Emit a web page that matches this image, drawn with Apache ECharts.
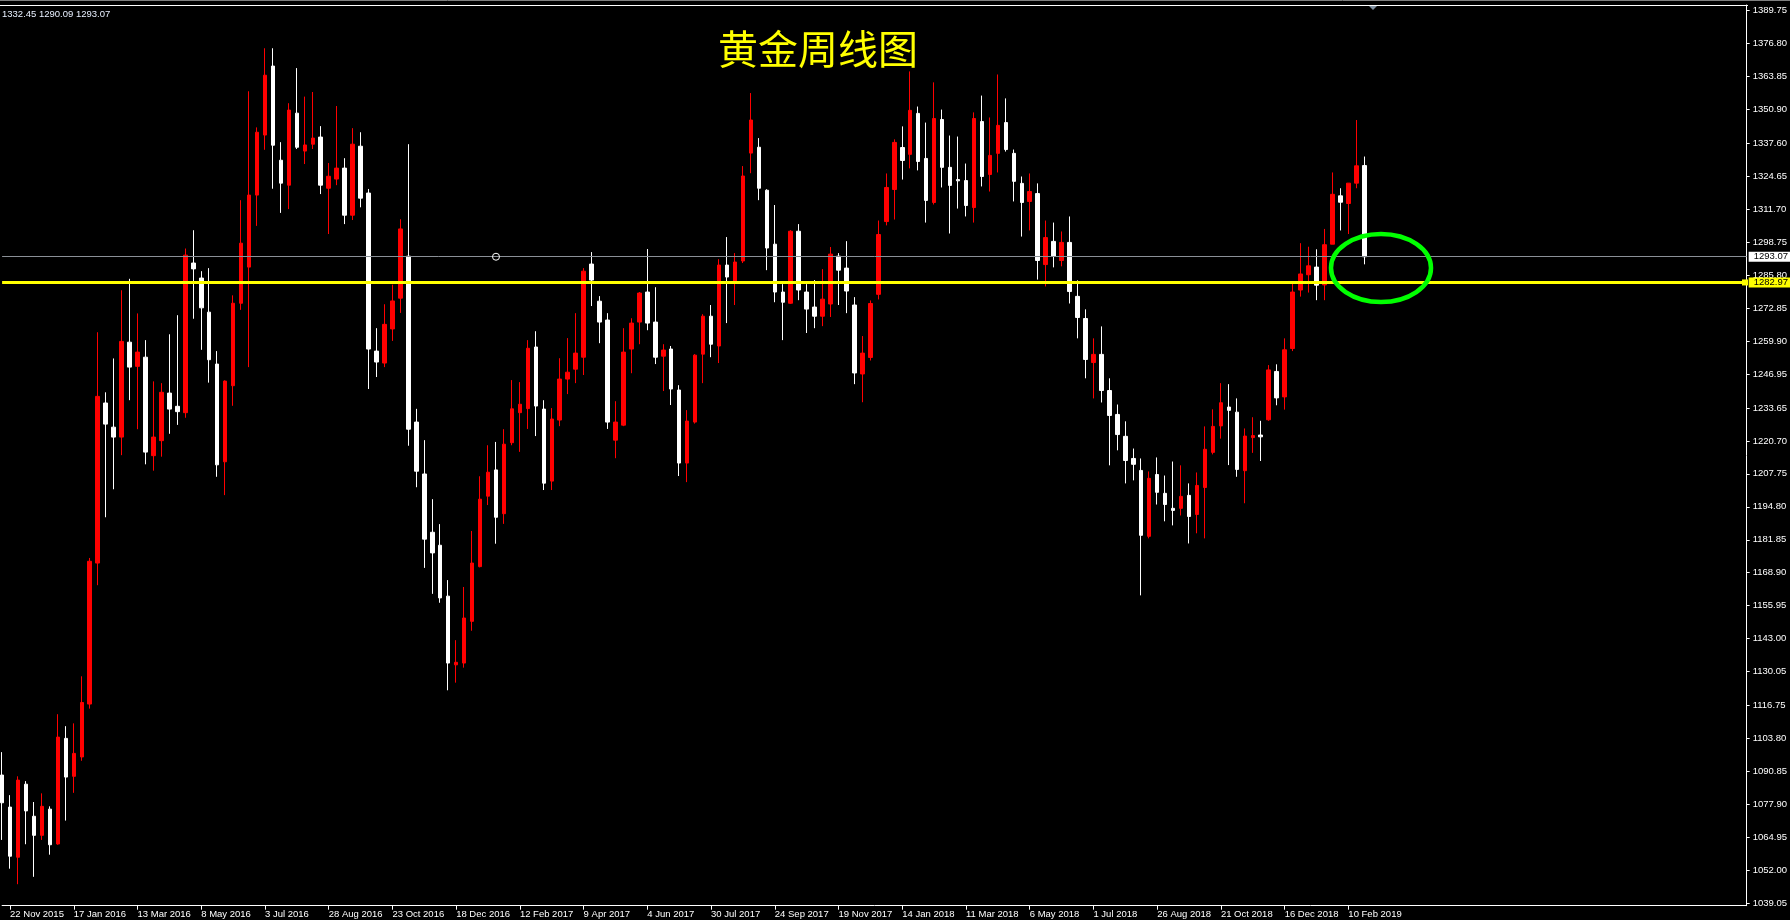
<!DOCTYPE html>
<html>
<head>
<meta charset="utf-8">
<script src="https://cdn.jsdelivr.net/npm/echarts@6/dist/echarts.min.js"></script>
<style>
html,body{margin:0;padding:0;background:#000;}
#c{width:1790px;height:920px;}
</style>
</head>
<body>
<div id="c"></div>
<script>
// ---- Data (weekly XAUUSD candles, week of 15 Nov 2015 .. 24 Feb 2019) ----
const startDate = [2015, 10, 15];           // first candle week (15 Nov 2015)
const totalSlots = 220;                      // weekly slots on the time axis (incl. right shift space)

const opens = [
1089.4,1076.8,1057.1,1085.8,1073.2,1065.7,1076.0,1062.3,1103.8,1088.9,
1096.5,1117.3,1172.7,1235.6,1226.1,1222.2,1259.5,1250.0,1253.6,1214.9,
1220.8,1239.5,1234.3,1231.8,1290.6,1284.7,1271.3,1250.9,1212.5,1242.4,
1274.8,1289.0,1317.3,1340.9,1368.0,1331.0,1321.2,1349.5,1334.6,1337.3,
1340.1,1320.0,1323.6,1327.9,1309.4,1336.5,1318.1,1256.0,1251.3,1264.7,
1276.8,1293.3,1228.1,1207.7,1184.8,1179.7,1159.7,1132.7,1133.4,1149.8,
1171.3,1199.0,1209.3,1192.1,1220.0,1231.8,1233.4,1257.6,1233.2,1204.9,
1228.9,1245.0,1248.9,1253.6,1290.2,1275.6,1268.2,1221.0,1226.9,1256.8,
1267.4,1279.2,1267.4,1254.0,1256.8,1240.7,1212.0,1228.1,1254.8,1269.7,
1258.0,1289.8,1283.5,1291.4,1333.8,1336.1,1319.2,1298.0,1279.2,1274.8,
1303.1,1279.2,1273.3,1269.7,1274.5,1293.3,1288.6,1274.1,1247.0,1253.5,
1278.3,1306.9,1319.5,1336.0,1333.3,1349.4,1331.7,1314.4,1347.0,1328.2,
1323.4,1323.0,1312.4,1346.2,1325.4,1333.7,1345.8,1333.7,1321.9,1314.8,
1317.9,1290.0,1299.1,1291.6,1298.7,1277.5,1268.8,1251.5,1254.7,1240.5,
1231.1,1222.5,1213.8,1209.1,1183.2,1207.5,1200.1,1194.2,1194.2,1199.3,
1191.8,1202.4,1216.2,1226.6,1234.0,1232.0,1209.0,1222.0,1223.0,1229.0,
1248.0,1238.0,1257.0,1280.0,1286.0,1289.0,1282.0,1298.0,1317.0,1314.0,
1322.0,1328.9
];
const highs = [
1098.4,1081.5,1088.9,1087.0,1078.8,1082.2,1077.1,1113.3,1108.6,1109.7,
1128.2,1174.7,1263.4,1239.8,1253.1,1279.9,1284.4,1270.8,1260.3,1244.1,
1243.4,1262.6,1270.1,1296.3,1303.5,1287.4,1288.6,1256.0,1244.5,1277.9,
1315.3,1358.1,1343.9,1375.0,1375.0,1338.1,1353.4,1367.2,1356.0,1357.8,
1344.4,1329.9,1352.3,1331.8,1343.6,1342.0,1319.7,1265.0,1274.4,1282.1,
1307.8,1337.3,1233.3,1221.0,1197.8,1188.0,1166.0,1142.4,1163.3,1185.3,
1206.8,1219.0,1220.3,1225.3,1244.6,1243.8,1260.3,1263.8,1236.7,1233.6,
1253.2,1261.1,1270.9,1288.6,1294.9,1277.6,1270.9,1236.3,1265.0,1268.9,
1279.2,1296.1,1281.1,1258.7,1258.0,1242.6,1232.8,1254.8,1270.5,1274.1,
1292.1,1300.8,1294.5,1328.7,1357.4,1339.7,1319.6,1313.4,1282.3,1303.5,
1305.9,1282.3,1283.9,1288.2,1296.9,1294.5,1299.2,1277.2,1261.9,1275.9,
1307.3,1325.8,1339.2,1344.3,1365.9,1352.1,1345.8,1361.6,1350.9,1340.7,
1340.3,1329.7,1349.8,1356.4,1347.8,1364.7,1355.3,1335.2,1324.6,1325.8,
1321.9,1307.3,1306.5,1303.0,1308.9,1283.8,1272.4,1261.0,1265.7,1245.3,
1235.0,1228.4,1217.7,1213.8,1208.7,1214.2,1207.1,1212.6,1211.1,1204.0,
1208.3,1226.4,1233.1,1243.4,1243.0,1237.4,1225.6,1230.0,1228.6,1250.5,
1250.8,1261.0,1283.4,1298.4,1297.0,1296.0,1304.0,1326.2,1320.0,1322.0,
1346.8,1332.45
];
const lows = [
1063.9,1052.6,1046.5,1062.2,1049.4,1063.9,1058.1,1062.0,1071.5,1082.4,
1095.0,1115.5,1164.0,1190.7,1201.7,1215.1,1236.7,1225.3,1211.5,1209.0,
1214.5,1223.5,1227.0,1229.8,1268.7,1256.5,1243.6,1206.6,1199.4,1234.5,
1272.2,1249.7,1305.2,1335.1,1319.8,1310.3,1311.8,1335.4,1329.5,1335.4,
1317.7,1302.0,1321.2,1305.9,1307.5,1312.5,1241.1,1245.8,1249.7,1260.0,
1271.0,1218.8,1202.5,1170.8,1160.6,1157.1,1122.7,1125.7,1131.6,1146.1,
1171.0,1195.5,1180.3,1188.1,1219.0,1216.4,1225.4,1222.6,1201.4,1201.4,
1226.5,1239.1,1243.4,1246.6,1273.7,1259.1,1225.4,1213.9,1226.5,1247.3,
1258.7,1264.2,1250.9,1240.3,1234.8,1206.9,1204.5,1227.5,1243.4,1253.6,
1251.3,1267.0,1274.1,1290.6,1325.9,1315.3,1287.8,1275.2,1260.3,1274.5,
1276.0,1263.1,1265.0,1265.8,1269.4,1274.1,1270.9,1243.0,1235.9,1252.3,
1276.3,1305.4,1307.7,1323.4,1327.8,1327.0,1306.5,1313.6,1320.3,1302.2,
1312.0,1308.9,1306.5,1320.7,1318.7,1326.2,1334.4,1314.8,1301.0,1303.4,
1284.1,1281.4,1288.9,1289.3,1274.7,1261.0,1245.3,1237.4,1235.8,1211.1,
1217.0,1204.0,1205.2,1160.0,1182.4,1195.7,1189.1,1187.5,1191.4,1180.4,
1184.4,1182.4,1215.4,1221.6,1211.2,1206.6,1196.2,1216.0,1212.8,1228.6,
1234.7,1233.0,1256.0,1277.4,1279.0,1276.0,1276.0,1298.0,1303.4,1302.0,
1320.0,1290.09
];
const closes = [
1078.5,1057.5,1087.4,1075.3,1065.7,1077.1,1062.0,1104.3,1088.6,1097.9,
1117.9,1173.4,1238.2,1227.3,1222.2,1259.8,1249.7,1255.6,1216.3,1222.2,
1239.8,1233.2,1232.2,1293.7,1288.3,1273.0,1252.6,1211.3,1244.2,1274.8,
1298.4,1317.3,1342.0,1364.4,1336.9,1322.0,1350.7,1336.1,1337.0,1339.7,
1321.2,1324.7,1327.9,1309.4,1337.3,1316.1,1256.8,1251.7,1266.5,1275.7,
1304.0,1225.3,1208.8,1182.1,1176.7,1159.0,1133.4,1133.7,1151.1,1172.7,
1197.8,1208.4,1190.7,1219.4,1233.3,1235.1,1257.1,1234.4,1204.1,1229.3,
1245.0,1247.7,1255.2,1287.4,1283.9,1267.4,1228.1,1228.1,1255.6,1267.0,
1278.8,1267.0,1253.6,1256.4,1241.1,1212.0,1228.5,1254.4,1269.7,1258.7,
1289.8,1285.1,1291.0,1324.8,1346.8,1320.0,1296.5,1279.2,1275.2,1303.1,
1280.0,1272.5,1269.7,1276.4,1294.1,1287.8,1279.6,1247.4,1255.2,1274.7,
1301.8,1320.3,1338.0,1330.9,1350.6,1330.5,1315.2,1347.4,1328.2,1321.1,
1322.9,1313.2,1347.4,1324.6,1332.9,1344.7,1335.2,1322.7,1314.4,1318.7,
1291.6,1300.6,1293.2,1298.7,1279.4,1269.2,1252.7,1254.7,1240.5,1230.7,
1223.2,1213.0,1211.5,1183.6,1206.0,1200.5,1195.7,1193.4,1198.9,1191.0,
1203.2,1217.4,1226.4,1235.7,1232.7,1209.5,1222.6,1222.8,1222.3,1248.6,
1237.6,1256.5,1279.2,1286.3,1289.5,1281.9,1297.8,1317.6,1314.5,1322.0,
1328.8,1293.07
];

const yTicks = [1389.75,1376.80,1363.85,1350.90,1337.60,1324.65,1311.70,1298.75,1285.80,1272.85,
  1259.90,1246.95,1233.65,1220.70,1207.75,1194.80,1181.85,1168.90,1155.95,1143.00,1130.05,
  1116.75,1103.80,1090.85,1077.90,1064.95,1052.00,1039.05];
const yMin = 1038.05, yMax = 1392.0;
const bidPrice = 1293.07;     // grey current-price line
const levelPrice = 1282.97;   // yellow horizontal level
const labelEvery = 8;         // weeks between time labels
const firstLabelSlot = 1;     // 22 Nov 2015
const lastLabelSlot = 169;    // 10 Feb 2019
const titleText = '黄金周线图';
const objectAnchorSlot = 62;  // anchor circle on the grey line

// ---- build categories ----
const MONTHS = ['Jan','Feb','Mar','Apr','May','Jun','Jul','Aug','Sep','Oct','Nov','Dec'];
const categories = [];
for (let k = 0; k < totalSlots; k++) {
  const d = new Date(Date.UTC(startDate[0], startDate[1], startDate[2] + 7 * k));
  categories.push(d.getUTCDate() + ' ' + MONTHS[d.getUTCMonth()] + ' ' + d.getUTCFullYear());
}
const candleData = opens.map((o, j) => [o, closes[j], lows[j], highs[j]]);
const showLabel = (idx) => idx >= firstLabelSlot && idx <= lastLabelSlot && (idx - firstLabelSlot) % labelEvery === 0;

const FONT = 'Liberation Sans, Arial, sans-serif';
const chart = echarts.init(document.getElementById('c'), null, {renderer: 'canvas'});

const GRID = {left: 2.1, right: 42, top: 5, bottom: 14.3};

chart.setOption({
  backgroundColor: '#000',
  animation: false,
  grid: {left: GRID.left, right: GRID.right, top: GRID.top, bottom: GRID.bottom, containLabel: false},
  xAxis: {
    type: 'category',
    data: categories,
    boundaryGap: false,
    axisLine: {show: true, onZero: false, lineStyle: {color: '#ffffff', width: 1}},
    axisTick: {show: true, interval: showLabel, length: 4, lineStyle: {color: '#ffffff'}},
    axisLabel: {interval: showLabel, align: 'left', color: '#ffffff', fontSize: 9.5, fontFamily: FONT, margin: 4},
    splitLine: {show: false}
  },
  yAxis: {
    type: 'value',
    position: 'right',
    min: yMin, max: yMax,
    axisLine: {show: true, lineStyle: {color: '#ffffff', width: 1}},
    axisTick: {show: true, customValues: yTicks, length: 3, lineStyle: {color: '#ffffff'}},
    axisLabel: {customValues: yTicks, formatter: v => v.toFixed(2), color: '#ffffff', fontSize: 9.5, fontFamily: FONT, margin: 6},
    splitLine: {show: false}
  },
  series: [{
    type: 'candlestick',
    data: candleData,
    barWidth: 4,
    clip: false,
    itemStyle: {color: '#ff0000', color0: '#ffffff', borderColor: '#ff0000', borderColor0: '#ffffff', borderWidth: 1},
    markLine: {
      silent: true,
      symbol: ['none', 'none'],
      animation: false,
      data: [
        {yAxis: bidPrice, lineStyle: {color: '#8a8f96', width: 1, type: 'solid'},
         label: {show: true, position: 'end', distance: 2, formatter: bidPrice.toFixed(2), color: '#000', backgroundColor: '#ffffff',
                 fontSize: 9.5, fontFamily: FONT, lineHeight: 10, padding: [0, 8, 0, 5]}},
        {yAxis: levelPrice, lineStyle: {color: '#ffff00', width: 3, type: 'solid'},
         label: {show: true, position: 'end', distance: 2, formatter: levelPrice.toFixed(2), color: '#000', backgroundColor: '#ffff00',
                 fontSize: 9.5, fontFamily: FONT, lineHeight: 10, padding: [0, 8, 0, 5]}}
      ]
    },
    markPoint: {
      silent: true,
      animation: false,
      data: [{coord: [objectAnchorSlot, bidPrice], symbol: 'circle', symbolSize: 7,
              itemStyle: {color: 'rgba(0,0,0,0)', borderColor: '#ffffff', borderWidth: 1}, label: {show: false}}]
    }
  }]
});

// decorations positioned through the chart's own coordinate system
const yLevel = chart.convertToPixel({yAxisIndex: 0}, levelPrice);
const xRight = 1790 - GRID.right;
const lastCandle = opens.length - 1;
chart.setOption({
  graphic: [
    {type: 'line', shape: {x1: 0, y1: 0.5, x2: 1790, y2: 0.5}, style: {stroke: '#7f7f7f', lineWidth: 1}, z: 10},
    {type: 'line', shape: {x1: 0, y1: GRID.top + 0.5, x2: xRight, y2: GRID.top + 0.5}, style: {stroke: '#ffffff', lineWidth: 1}, z: 10},
    {type: 'text', x: 2, y: 14, style: {text: highs[lastCandle].toFixed(2) + ' ' + lows[lastCandle].toFixed(2) + ' ' + closes[lastCandle].toFixed(2),
      fill: '#e8f0ff', fontSize: 9.5, fontFamily: FONT, verticalAlign: 'middle', align: 'left'}, z: 10},
    {type: 'text', x: 818, y: 49, style: {text: titleText, fill: '#ffff00', fontSize: 40, fontFamily: 'Noto Sans CJK SC',
      fontWeight: 'normal', align: 'center', verticalAlign: 'middle'}, z: 10},
    {type: 'polygon', shape: {points: [[1369, 6], [1377, 6], [1373, 10]]}, style: {fill: '#7f8fa0'}, z: 10},
    {type: 'rect', shape: {x: xRight - 6, y: yLevel - 3, width: 6, height: 6}, style: {fill: '#ffff00'}, z: 10},
    {type: 'ellipse', shape: {cx: 1381, cy: 268, rx: 50, ry: 34}, style: {fill: 'none', stroke: '#00ff00', lineWidth: 4.5}, z: 10}
  ]
});
</script>
</body>
</html>
